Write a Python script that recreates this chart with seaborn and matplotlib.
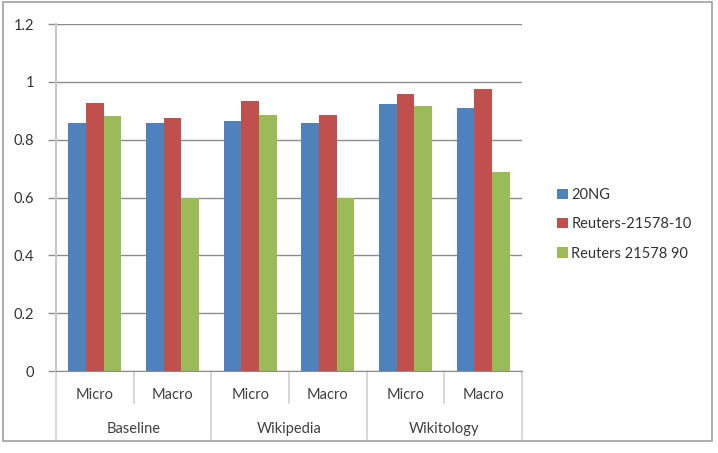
import matplotlib
matplotlib.use('Agg')
import numpy as np
import pandas as pd
import seaborn as sns
from matplotlib import pyplot as plt
from matplotlib.patches import Rectangle

# values
groups = ["Baseline", "Wikipedia", "Wikitology"]
measures = ["Micro", "Macro"]
series = ["20NG", "Reuters-21578-10", "Reuters 21578 90"]
ng20 = [0.857, 0.857, 0.866, 0.857, 0.922, 0.909]
reuters10 = [0.928, 0.875, 0.933, 0.886, 0.957, 0.975]
reuters90 = [0.881, 0.600, 0.886, 0.600, 0.916, 0.689]
colors = ["#4F81BD", "#C0504D", "#9BBB59"]

cats = [f"{g}|{m}" for g in groups for m in measures]
df = pd.DataFrame({
    "cat": cats * 3,
    "series": np.repeat(series, len(cats)),
    "value": ng20 + reuters10 + reuters90,
})

sns.set_style("white")
plt.rcParams['font.family'] = ['Lato', 'DejaVu Sans']

fig = plt.figure(figsize=(7.18, 4.53), dpi=100)
ax = fig.add_axes([0.078, 0.181, 0.649, 0.766])

sns.barplot(data=df, x="cat", y="value", hue="series", order=cats,
            hue_order=series, palette=colors, width=0.68, gap=0,
            saturation=1, edgecolor="none", ax=ax, legend=True)

ax.set_ylim(0, 1.2)
ax.set_xlim(-0.5, len(cats) - 0.5)
ax.set_yticks(np.arange(0, 1.21, 0.2))
ax.set_yticklabels([f"{v:g}" for v in np.arange(0, 1.21, 0.2)], fontsize=10.5, color="#333333")
ax.yaxis.grid(True, color="#8c8c8c", linewidth=1)
ax.set_axisbelow(True)
ax.set_xlabel("")
ax.set_ylabel("")
ax.set_xticks([])
for s in ["top", "right"]:
    ax.spines[s].set_visible(False)
ax.spines["left"].set_color("#c8c8c8")
ax.spines["left"].set_linewidth(1.5)
ax.spines["bottom"].set_color("#8c8c8c")
ax.tick_params(axis="y", left=True, length=6, width=1, color="#8c8c8c", pad=10)

# two-level category axis
trans = ax.get_xaxis_transform()
for i, c in enumerate(cats):
    ax.text(i, -0.068, c.split("|")[1], transform=trans, ha="center", va="center",
            fontsize=10.5, color="#404040")
for j, g in enumerate(groups):
    ax.text(2 * j + 0.5, -0.168, g, transform=trans, ha="center", va="center",
            fontsize=10.5, color="#404040")
for k in range(len(cats) + 1):
    x = k - 0.5
    y0 = -0.196 if k % 2 == 0 else -0.092
    ax.plot([x, x], [0, y0], transform=trans, color="#d0d0d0", lw=1.2, clip_on=False)

handles, labels = ax.get_legend_handles_labels()
ax.get_legend().remove()
leg = fig.legend(handles, labels, loc="center left", bbox_to_anchor=(0.758, 0.505),
                 frameon=False, fontsize=10.5, handlelength=0.7, handleheight=0.7,
                 handletextpad=0.25, labelspacing=1.05)
for t in leg.get_texts():
    t.set_color("#333333")

fig.patches.append(Rectangle((0.004, 0.027), 0.988, 0.969, transform=fig.transFigure,
                             fill=False, edgecolor="#a0a0a0", linewidth=1.2))

fig.savefig("out.png", dpi=100)
